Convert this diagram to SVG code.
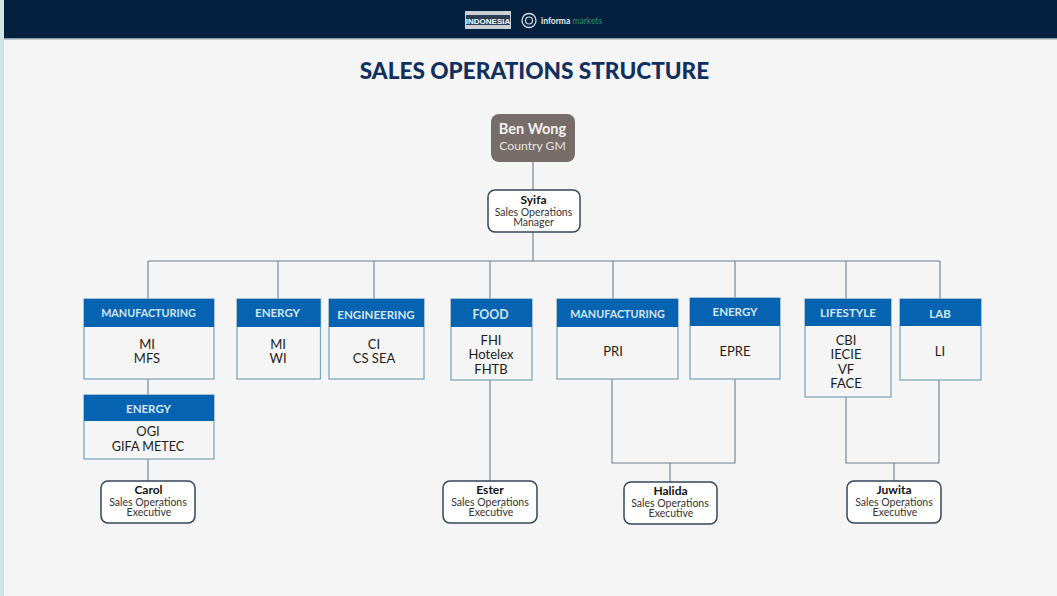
<svg xmlns="http://www.w3.org/2000/svg" width="1057" height="596" viewBox="0 0 1057 596">
<style>
text{font-family:Lato,"Open Sans","Liberation Sans",sans-serif;text-anchor:middle}
.h{fill:#0563b2}
.b{fill:#f5f5f5;stroke:#7fa6bd;stroke-width:1.3}
.ht{fill:#d3e6f2;font-size:11.5px;font-weight:700}
.m{font-size:10.8px}
.t{fill:#1c1c1c;font-size:13px}
.p{fill:#fff;stroke:#33465a;stroke-width:1.5}
.n{fill:#111;font-size:12px;font-weight:700}
.r{fill:#333;font-size:10.5px}
#connectors path{fill:none;stroke:#6f7d8b;stroke-width:1.1}
</style>
<rect width="1057" height="596" fill="#f5f5f5"/>
<rect width="4" height="596" fill="#cfe6e2"/>
<rect x="4" y="0" width="1053" height="39" fill="#03213f"/>
<rect x="4" y="38" width="1053" height="1.5" fill="#8b99a8"/>
<g id="logo">
<rect x="465" y="11" width="46" height="18" fill="#c9ced6"/>
<rect x="466" y="15" width="44" height="10" fill="#2c3d55"/>
<text x="488" y="23.500" style="font-size:8px;font-weight:700;fill:#fff;font-family:'Liberation Sans',sans-serif">INDONESIA</text>
<circle cx="529" cy="20.500" r="7" fill="none" stroke="#d8dee4" stroke-width="1.300"/>
<circle cx="529" cy="20.500" r="3.500" fill="none" stroke="#d8dee4" stroke-width="1.200"/>
<text x="541" y="24" style="font-size:8.500px;font-weight:700;fill:#e6eaee;text-anchor:start">informa</text>
<text x="572.500" y="24" style="font-size:8.500px;fill:#2f8f63;text-anchor:start">markets</text>
</g>
<text id="title" x="534.500" y="79" style="font-size:22.600px;font-weight:900;fill:#12305f">SALES OPERATIONS STRUCTURE</text>
<g id="connectors">
<path d="M533 161V190M533 232V261M148 261H940M148 261V299M278 261V299M374 261V299M490 261V299M613 261V299M735 261V298M846 261V299M940 261V299"/>
<path d="M148 379V395M148 459V481M490 380V481M612 379V463H735V379M670 463V482M846 397V463H939V380M894 463V481"/>
</g>
<g id="ben">
<rect x="491" y="114" width="84" height="48" rx="8" fill="#766c69"/>
<text x="532.500" y="134" style="font-size:14.500px;font-weight:700;fill:#f4f2f1">Ben Wong</text>
<text x="532.500" y="150" style="font-size:12.200px;fill:#e5e2e0">Country GM</text>
</g>
<g id="syifa">
<rect class="p" x="488" y="190" width="92" height="42" rx="7"/>
<text class="n" x="533.500" y="204">Syifa</text>
<text class="r" x="533.500" y="215.500">Sales Operations</text>
<text class="r" x="533.500" y="226">Manager</text>
</g>
<g id="mfg1">
<rect class="b" x="84" y="299" width="130" height="80"/><rect class="h" x="84" y="299" width="130" height="28"/>
<text class="ht m" x="148.500" y="317">MANUFACTURING</text>
<text class="t" x="147" y="349">MI</text><text class="t" x="147" y="363">MFS</text>
</g>
<g id="energy1">
<rect class="b" x="237" y="299" width="83.500" height="80"/><rect class="h" x="237" y="299" width="83.500" height="28"/>
<text class="ht" x="277.500" y="317">ENERGY</text>
<text class="t" x="278" y="349">MI</text><text class="t" x="278" y="363">WI</text>
</g>
<g id="engineering">
<rect class="b" x="329" y="299" width="95" height="80"/><rect class="h" x="329" y="299" width="95" height="28"/>
<text class="ht" x="376" y="319">ENGINEERING</text>
<text class="t" x="374" y="349">CI</text><text class="t" x="374" y="363">CS SEA</text>
</g>
<g id="energy2">
<rect class="b" x="84" y="395" width="130" height="64"/><rect class="h" x="84" y="395" width="130" height="26"/>
<text class="ht" x="148.500" y="413">ENERGY</text>
<text class="t" x="148" y="436">OGI</text><text class="t" x="148" y="451" style="font-size:12.600px">GIFA METEC</text>
</g>
<g id="food">
<rect class="b" x="451" y="299" width="81" height="81"/><rect class="h" x="451" y="299" width="81" height="28"/>
<text class="ht" x="490.500" y="319" style="font-size:12.300px">FOOD</text>
<text class="t" x="491" y="345">FHI</text><text class="t" x="491" y="359">Hotelex</text><text class="t" x="491" y="374">FHTB</text>
</g>
<g id="mfg2">
<rect class="b" x="557" y="299" width="121" height="80"/><rect class="h" x="557" y="299" width="121" height="28"/>
<text class="ht m" x="617.500" y="318">MANUFACTURING</text>
<text class="t" x="613" y="356">PRI</text>
</g>
<g id="energy3">
<rect class="b" x="690" y="298" width="90" height="81"/><rect class="h" x="690" y="298" width="90" height="28"/>
<text class="ht" x="735" y="316">ENERGY</text>
<text class="t" x="735" y="356">EPRE</text>
</g>
<g id="lifestyle">
<rect class="b" x="805" y="299" width="86" height="98"/><rect class="h" x="805" y="299" width="86" height="27"/>
<text class="ht" x="848" y="317">LIFESTYLE</text>
<text class="t" x="846" y="345">CBI</text><text class="t" x="846" y="359">IECIE</text><text class="t" x="846" y="374">VF</text><text class="t" x="846" y="388">FACE</text>
</g>
<g id="lab">
<rect class="b" x="900" y="299" width="81" height="81"/><rect class="h" x="900" y="299" width="81" height="27"/>
<text class="ht" x="940" y="318">LAB</text>
<text class="t" x="940" y="356">LI</text>
</g>
<g id="carol">
<rect class="p" x="101" y="481" width="94" height="42" rx="7"/>
<text class="n" x="148.500" y="494">Carol</text><text class="r" x="148" y="506">Sales Operations</text><text class="r" x="149" y="516">Executive</text>
</g>
<g id="ester">
<rect class="p" x="443" y="481" width="94" height="42" rx="7"/>
<text class="n" x="490" y="494">Ester</text><text class="r" x="490" y="506">Sales Operations</text><text class="r" x="491" y="516">Executive</text>
</g>
<g id="halida">
<rect class="p" x="624" y="482" width="93" height="42" rx="7"/>
<text class="n" x="670.500" y="495">Halida</text><text class="r" x="670" y="507">Sales Operations</text><text class="r" x="671" y="517">Executive</text>
</g>
<g id="juwita">
<rect class="p" x="847" y="481" width="94" height="42" rx="7"/>
<text class="n" x="894" y="494">Juwita</text><text class="r" x="894" y="506">Sales Operations</text><text class="r" x="895" y="516">Executive</text>
</g>
</svg>
